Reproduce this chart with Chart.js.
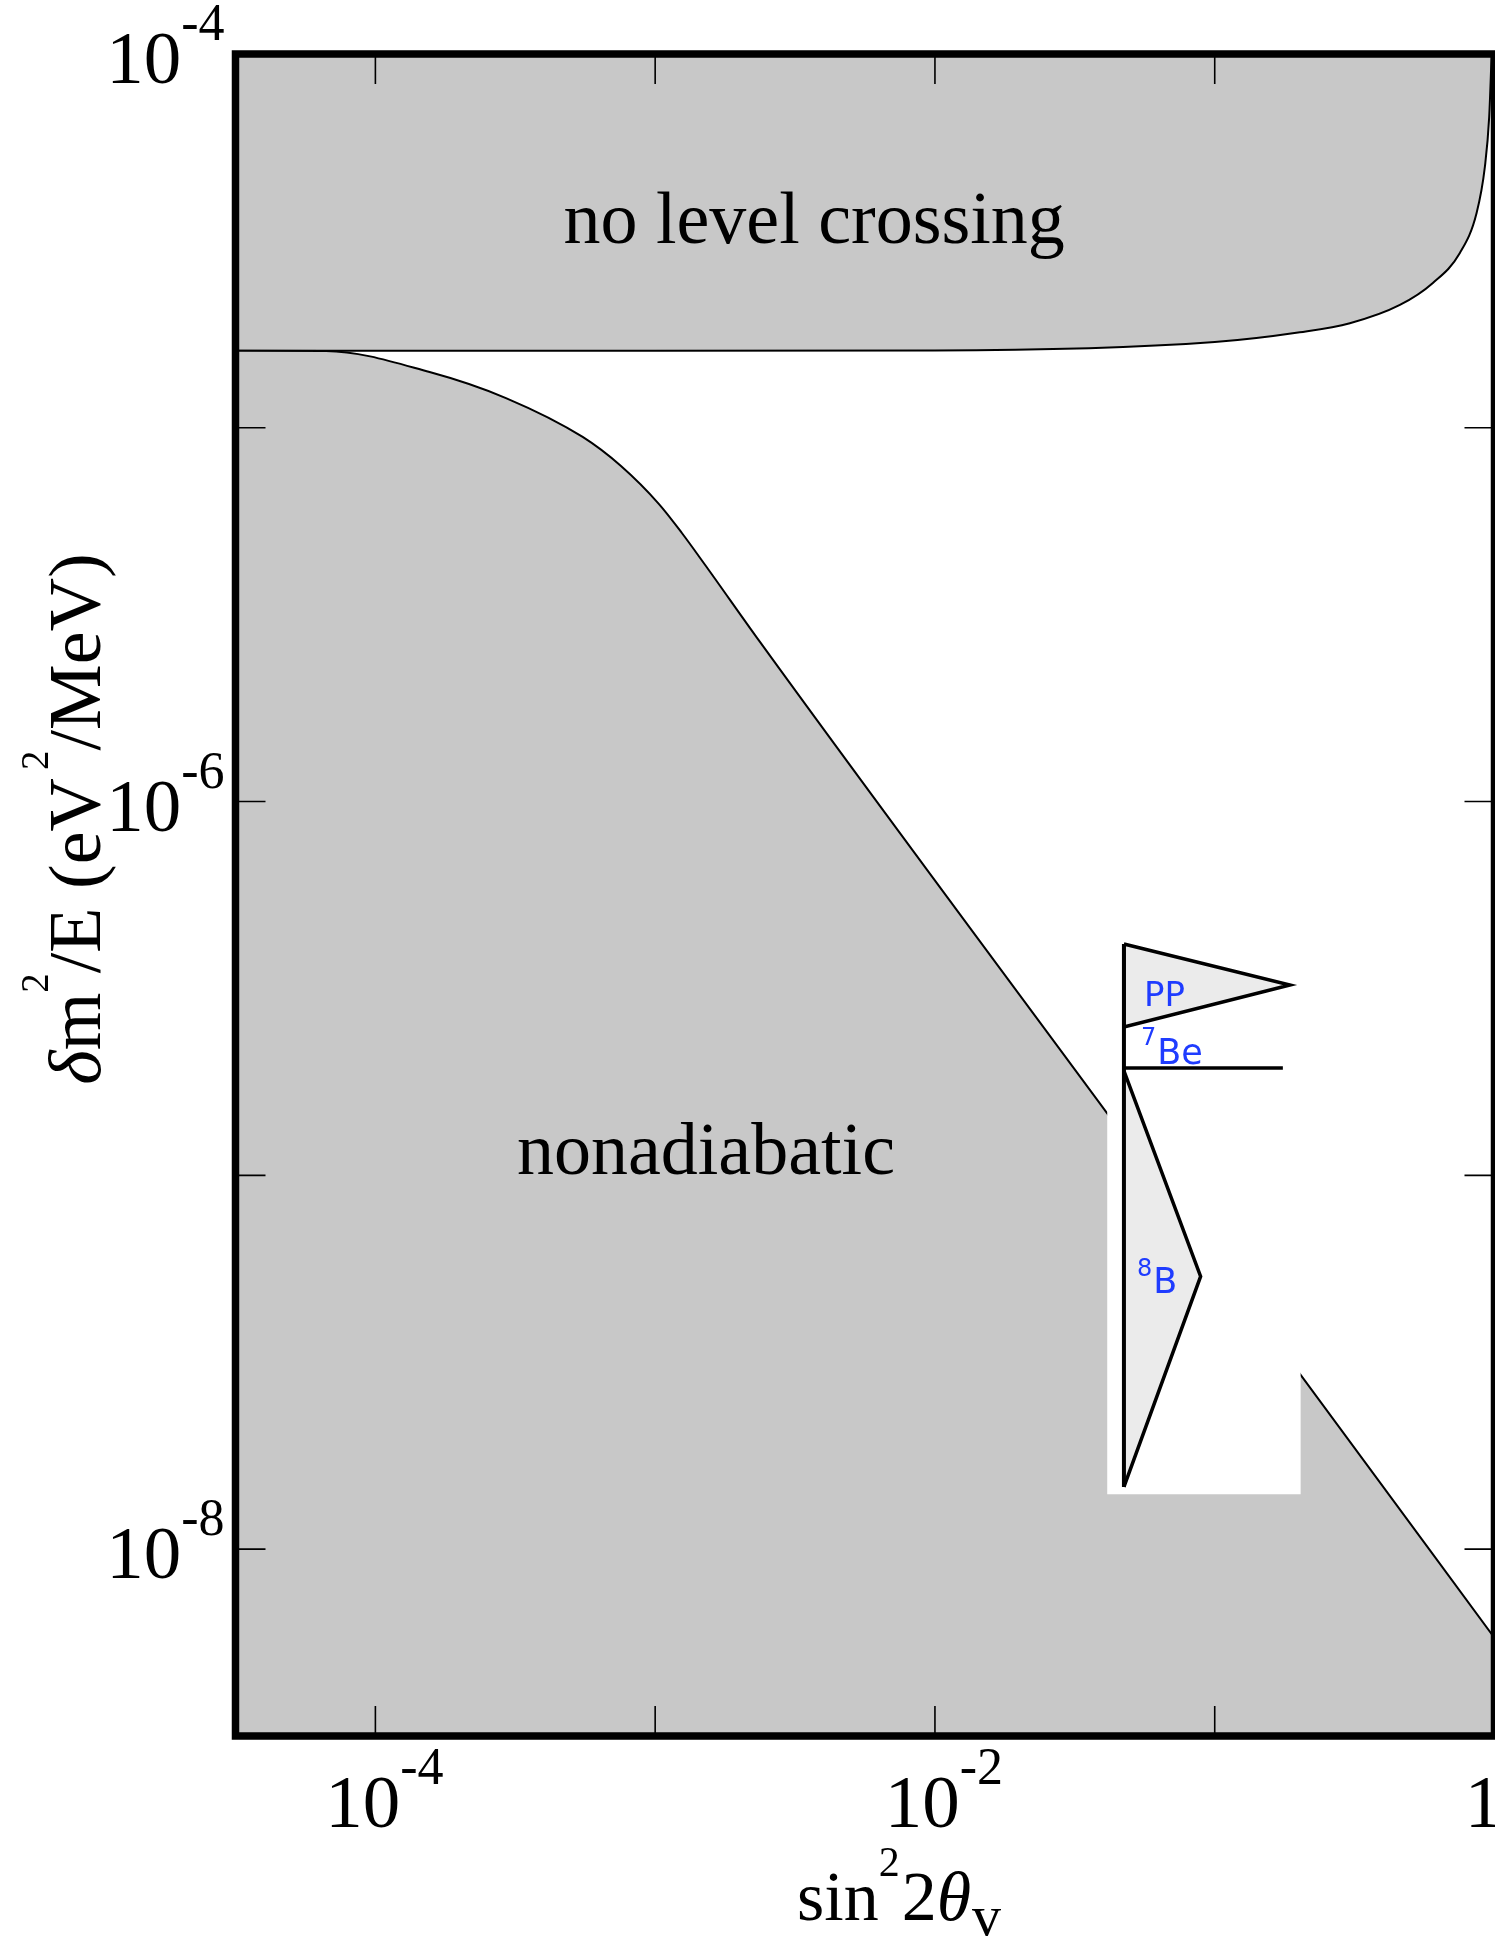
<!DOCTYPE html>
<html>
<head>
<meta charset="utf-8">
<title>Level crossing and adiabaticity</title>
<script src="https://cdn.jsdelivr.net/npm/chart.js@4.4.1/dist/chart.umd.min.js"></script>
<style>
  html, body { margin: 0; padding: 0; background: #ffffff; }
  #box { position: relative; width: 1495px; height: 1937px; }
</style>
</head>
<body>
<div id="box"><canvas id="plot"></canvas></div>
<script>
// axis limits: sin^2 2theta and dm^2/E (eV^2/MeV)
const xLimits = [3.1623e-5, 1];
const yLimits = [3.1623e-9, 1e-4];

// edge of the "no level crossing" region
const crossX = [3.162e-5, 1e-3, 1e-2, 0.1, 0.2015, 0.3041, 0.459, 0.6022, 0.752, 0.863, 0.924, 0.9574, 0.9768];
const crossY = [1.608e-5, 1.608e-5, 1.61e-5, 1.696e-5, 1.801e-5, 1.904e-5, 2.131e-5, 2.44e-5, 2.935e-5, 3.755e-5, 4.995e-5, 6.8e-5, 1e-4];

// edge of the nonadiabatic region
const nonadX = [3.162e-5, 6.658e-5, 1.562e-4, 2.929e-4, 5.506e-4, 7.548e-4, 1.032e-3, 1.246e-3, 1.507e-3, 2.369e-3, 0.04128, 0.2028, 1];
const nonadY = [1.608e-5, 1.605e-5, 1.41e-5, 1.201e-5, 9.45e-6, 7.9e-6, 6.25e-6, 5.23e-6, 4.3e-6, 2.673e-6, 1.464e-7, 2.924e-8, 5.786e-9];

// blank patch behind the solar neutrino inset
const patchX = [0.04128, 0.2028, 0.2028, 0.04128];
const patchY = [4.0e-7, 4.0e-7, 1.402e-8, 1.402e-8];

// inset: pp, 7Be and 8B flags on one pole
const ppX = [0.04737, 0.1857, 0.04737, 0.04737];
const ppY = [4.159e-7, 3.23e-7, 2.495e-7, 4.159e-7];
const be7X = [0.04737, 0.1752];
const be7Y = [1.937e-7, 1.937e-7];
const b8X = [0.04737, 0.08904, 0.04737];
const b8Y = [1.902e-7, 5.366e-8, 1.467e-8];
const poleX = [0.04737, 0.04737];
const poleY = [4.159e-7, 1.467e-8];

// ticks and labels ('' = tick mark only)
const xTicks = [1e-4, 1e-3, 1e-2, 1e-1, 1];
const xTickLabels = ['10^-4', '', '10^-2', '', '1'];
const yTicks = [1e-4, 1e-5, 1e-6, 1e-7, 1e-8];
const yTickLabels = ['10^-4', '', '10^-6', '', '10^-8'];

const SERIF = '"Liberation Serif", "Times New Roman", serif';
const SANS = '"DejaVu Sans", Verdana, sans-serif';
const BLUE = '#1f3cff';
const GREY = '#c8c8c8';

function pts(xs, ys) {
  return xs.map((x, i) => ({x: x, y: ys[i]}));
}

// text made of runs (for superscripts / subscripts)
function runWidth(ctx, r) {
  ctx.font = (r.italic ? 'italic ' : '') + r.size + 'px ' + (r.family || SERIF);
  return ctx.measureText(r.t).width * (r.sx || 1);
}
function textWidth(ctx, runs) {
  let w = 0;
  runs.forEach(r => { w += (r.pre || 0) + runWidth(ctx, r); });
  return w;
}
function drawText(ctx, runs, x, y, color) {
  ctx.save();
  ctx.fillStyle = color || '#000';
  ctx.textBaseline = 'alphabetic';
  ctx.textAlign = 'left';
  runs.forEach(r => {
    x += r.pre || 0;
    const w = runWidth(ctx, r);
    ctx.save();
    ctx.translate(x, y + (r.dy || 0));
    ctx.scale(r.sx || 1, 1);
    ctx.fillText(r.t, 0, 0);
    ctx.restore();
    x += w;
  });
  ctx.restore();
}
function tickRuns(label) {
  const parts = label.split('^');
  const runs = [{t: parts[0], size: 75}];
  if (parts[1]) runs.push({t: parts[1], size: 52, dy: -43});
  return runs;
}

// labels placed in data coordinates
const notes = [
  {x: 3.70e-3, y: 3.122e-5, align: 'center', runs: [{t: 'no level crossing', size: 74}]},
  {x: 1.519e-3, y: 1.009e-7, align: 'center', runs: [{t: 'nonadiabatic', size: 74}]},
  {x: 0.05584, y: 2.838e-7, align: 'left', color: BLUE, runs: [{t: 'PP', size: 34, family: SANS}]},
  {x: 0.05447, y: 1.986e-7, align: 'left', color: BLUE, runs: [
    {t: '7', size: 24, family: SANS, dy: -19},
    {t: 'Be', size: 35, family: SANS, pre: 1}]},
  {x: 0.05270, y: 4.845e-8, align: 'left', color: BLUE, runs: [
    {t: '8', size: 24, family: SANS, dy: -17},
    {t: 'B', size: 35, family: SANS, pre: 1}]}
];

const xTitle = [
  {t: 'sin', size: 70},
  {t: '2', size: 42, dy: -44},
  {t: '2', size: 70, pre: 2},
  {t: 'θ', size: 70, italic: true},
  {t: 'v', size: 58, dy: 15, pre: 1}
];
const yTitle = [
  {t: 'δ', size: 74, italic: true},
  {t: 'm', size: 74},
  {t: '2', size: 39, dy: -52},
  {t: '/E (eV', size: 74},
  {t: '2', size: 39, dy: -52, pre: 8},
  {t: '/MeV)', size: 74}
];

const framePlugin = {
  id: 'frame',
  afterDatasetsDraw(chart) {
    const {ctx, chartArea: a} = chart;
    const xs = chart.scales.x, ys = chart.scales.y;
    ctx.save();
    ctx.strokeStyle = '#000';
    ctx.lineWidth = 1.6;
    ctx.beginPath();
    xTicks.forEach(v => {
      const px = xs.getPixelForValue(v);
      ctx.moveTo(px, a.top); ctx.lineTo(px, a.top + 30);
      ctx.moveTo(px, a.bottom); ctx.lineTo(px, a.bottom - 30);
    });
    yTicks.forEach(v => {
      const py = ys.getPixelForValue(v);
      ctx.moveTo(a.left, py); ctx.lineTo(a.left + 30, py);
      ctx.moveTo(a.right, py); ctx.lineTo(a.right - 30, py);
    });
    ctx.stroke();
    ctx.lineWidth = 7.5;
    ctx.strokeRect(a.left, a.top, a.right - a.left, a.bottom - a.top);
    ctx.restore();

    xTicks.forEach((v, i) => {
      if (!xTickLabels[i]) return;
      const runs = tickRuns(xTickLabels[i]);
      const w = textWidth(ctx, runs);
      const shift = runs.length > 1 ? 9 : -11;
      drawText(ctx, runs, xs.getPixelForValue(v) + shift - w / 2, a.bottom + 91);
    });
    yTicks.forEach((v, i) => {
      if (!yTickLabels[i]) return;
      const runs = tickRuns(yTickLabels[i]);
      const w = textWidth(ctx, runs);
      drawText(ctx, runs, a.left - 11 - w, ys.getPixelForValue(v) + 29);
    });
  },
  afterDraw(chart) {
    const {ctx, chartArea: a} = chart;
    const xs = chart.scales.x, ys = chart.scales.y;

    notes.forEach(n => {
      const w = textWidth(ctx, n.runs);
      let px = xs.getPixelForValue(n.x);
      if (n.align === 'center') px -= w / 2;
      drawText(ctx, n.runs, px, ys.getPixelForValue(n.y), n.color);
    });

    // axis titles
    const wx = textWidth(ctx, xTitle);
    drawText(ctx, xTitle, (a.left + a.right) / 2 + 34 - wx / 2, a.bottom + 184);

    const wy = textWidth(ctx, yTitle);
    ctx.save();
    ctx.translate(a.left - 135.5, a.top + 765);
    ctx.rotate(-Math.PI / 2);
    drawText(ctx, yTitle, -wy / 2, 0);
    ctx.restore();
  }
};

const lineBase = {showLine: true, pointRadius: 0, pointHoverRadius: 0, borderColor: '#000'};

new Chart(document.getElementById('plot'), {
  type: 'scatter',
  data: {
    datasets: [
      Object.assign({}, lineBase, {
        label: 'no level crossing', data: pts(crossX, crossY),
        fill: 'end', backgroundColor: GREY, borderWidth: 2,
        cubicInterpolationMode: 'monotone', order: 10
      }),
      Object.assign({}, lineBase, {
        label: 'nonadiabatic', data: pts(nonadX, nonadY),
        fill: 'start', backgroundColor: GREY, borderWidth: 2,
        cubicInterpolationMode: 'monotone', order: 9
      }),
      Object.assign({}, lineBase, {
        label: 'inset patch', data: pts(patchX, patchY),
        fill: 'shape', backgroundColor: '#ffffff',
        borderColor: 'rgba(0,0,0,0)', borderWidth: 0, order: 5
      }),
      Object.assign({}, lineBase, {
        label: 'pp', data: pts(ppX, ppY),
        fill: 'shape', backgroundColor: '#ebebeb', borderWidth: 3.5, order: 3
      }),
      Object.assign({}, lineBase, {
        label: '8B', data: pts(b8X, b8Y),
        fill: 'shape', backgroundColor: '#ebebeb', borderWidth: 3.5, order: 3
      }),
      Object.assign({}, lineBase, {
        label: '7Be', data: pts(be7X, be7Y),
        fill: false, borderWidth: 3.5, order: 2
      }),
      Object.assign({}, lineBase, {
        label: 'pole', data: pts(poleX, poleY),
        fill: false, borderWidth: 4, order: 1
      })
    ]
  },
  options: {
    responsive: true,
    maintainAspectRatio: false,
    animation: false,
    devicePixelRatio: 1,
    layout: {padding: {left: 235.5, right: 0.5, top: 54, bottom: 201}},
    plugins: {legend: {display: false}, tooltip: {enabled: false}},
    events: [],
    scales: {
      x: {type: 'logarithmic', min: xLimits[0], max: xLimits[1], display: false},
      y: {type: 'logarithmic', min: yLimits[0], max: yLimits[1], display: false}
    }
  },
  plugins: [framePlugin]
});
</script>
</body>
</html>
